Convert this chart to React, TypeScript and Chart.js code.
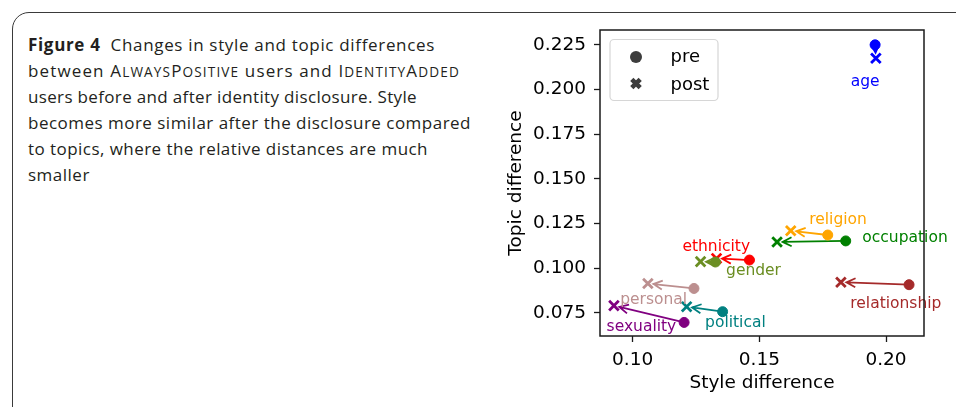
import React, { useEffect, useLayoutEffect, useRef } from 'react';
import { Chart, registerables } from 'chart.js';

Chart.register(...registerables);

const categories = ['age', 'religion', 'occupation', 'ethnicity', 'gender', 'personal', 'political', 'sexuality', 'relationship'];
const colors = ['#0000ff', '#ffa500', '#008000', '#ff0000', '#6b8e23', '#bc8f8f', '#008080', '#800080', '#a52a2a'];
const preStyle = [0.1957, 0.1770, 0.1841, 0.1461, 0.1327, 0.1242, 0.1355, 0.1203, 0.2091];
const preTopic = [0.2250, 0.1186, 0.1153, 0.1046, 0.1035, 0.0887, 0.0757, 0.0697, 0.0908];
const postStyle = [0.1960, 0.1624, 0.1570, 0.1331, 0.1268, 0.1060, 0.1213, 0.0926, 0.1822];
const postTopic = [0.2175, 0.1210, 0.1147, 0.1055, 0.1037, 0.0915, 0.0785, 0.0791, 0.0922];

const xTicks = [0.10, 0.15, 0.20];
const yTicks = [0.075, 0.100, 0.125, 0.150, 0.175, 0.200, 0.225];
const xRange = [0.0871, 0.2150];
const yRange = [0.0621, 0.2333];

const legendLabels = ['pre', 'post'];

// label placement (pixels relative to the pre point: centre x, baseline y)
const labelOffsets: [number, number][] = [
  [-10, 40.7], [10.3, -10.7], [59.3, 1.3], [-33.2, -9.3], [38, 13],
  [-40.3, 15.5], [12.8, 15.3], [-42.7, 8.5], [-13.2, 23.6],
];

// caption line widths (px) to match the typeset caption
const captionWidths = [407, 432, 389, 443, 400, 0];

const FONT = "'DejaVu Sans'";

const overlayPlugin = {
  id: 'overlay',
  beforeDatasetsDraw(chart: any) {
    const { ctx, scales } = chart;
    const xs = scales.x, ys = scales.y;
    ctx.save();
    for (let i = 0; i < categories.length; i++) {
      const x0 = xs.getPixelForValue(preStyle[i]);
      const y0 = ys.getPixelForValue(preTopic[i]);
      const x1 = xs.getPixelForValue(postStyle[i]);
      const y1 = ys.getPixelForValue(postTopic[i]);
      const dx = x0 - x1, dy = y0 - y1;
      const len = Math.hypot(dx, dy) || 1;
      const ux = dx / len, uy = dy / len;
      const tx = x1 + ux * 5.5, ty = y1 + uy * 5.5;
      ctx.strokeStyle = colors[i];
      ctx.lineWidth = 1.8;
      ctx.lineCap = 'butt';
      ctx.beginPath();
      ctx.moveTo(x0, y0);
      ctx.lineTo(tx, ty);
      const hl = 9, hw = 4.5;
      const bx = tx + ux * hl, by = ty + uy * hl;
      ctx.moveTo(bx - uy * hw, by + ux * hw);
      ctx.lineTo(tx, ty);
      ctx.lineTo(bx + uy * hw, by - ux * hw);
      ctx.stroke();
    }
    ctx.restore();
  },
  afterDatasetsDraw(chart: any) {
    const { ctx, scales } = chart;
    const xs = scales.x, ys = scales.y;
    ctx.save();
    ctx.font = `15.5px ${FONT}`;
    ctx.textAlign = 'center';
    ctx.textBaseline = 'alphabetic';
    for (let i = 0; i < categories.length; i++) {
      const x0 = xs.getPixelForValue(preStyle[i]);
      const y0 = ys.getPixelForValue(preTopic[i]);
      ctx.fillStyle = colors[i];
      ctx.fillText(categories[i], x0 + labelOffsets[i][0], y0 + labelOffsets[i][1]);
    }
    ctx.restore();
  },
  afterDraw(chart: any) {
    const { ctx, chartArea } = chart;
    const { left, top, right, bottom } = chartArea;
    ctx.save();
    ctx.strokeStyle = '#1a1a1a';
    ctx.lineWidth = 1.5;
    ctx.strokeRect(left, top, right - left, bottom - top);
    const lx = left + 10, ly = top + 9.5, lw = 108, lh = 61;
    ctx.beginPath();
    ctx.roundRect(lx, ly, lw, lh, 4);
    ctx.fillStyle = 'rgba(255,255,255,0.8)';
    ctx.fill();
    ctx.strokeStyle = '#d6d6d6';
    ctx.lineWidth = 1.2;
    ctx.stroke();
    const mx = lx + 26;
    const my0 = ly + 17.5, my1 = ly + 44;
    ctx.fillStyle = '#3d3d3d';
    ctx.beginPath();
    ctx.arc(mx, my0, 6, 0, Math.PI * 2);
    ctx.fill();
    ctx.strokeStyle = '#3d3d3d';
    ctx.lineWidth = 4.5;
    ctx.lineCap = 'butt';
    ctx.beginPath();
    ctx.moveTo(mx - 4.2, my1 - 4.2); ctx.lineTo(mx + 4.2, my1 + 4.2);
    ctx.moveTo(mx + 4.2, my1 - 4.2); ctx.lineTo(mx - 4.2, my1 + 4.2);
    ctx.stroke();
    ctx.fillStyle = '#000';
    ctx.font = `18px ${FONT}`;
    ctx.textAlign = 'left';
    ctx.textBaseline = 'alphabetic';
    ctx.fillText(legendLabels[0], lx + 60.5, ly + 22.5);
    ctx.fillText(legendLabels[1], lx + 60.5, ly + 50);
    ctx.restore();
  },
};

function ChartBox() {
  const ref = useRef<HTMLCanvasElement | null>(null);
  useEffect(() => {
    if (!ref.current) return;
    const chart = new Chart(ref.current, {
      type: 'scatter',
      data: {
        datasets: [
          {
            label: 'pre',
            data: preStyle.map((v, i) => ({ x: v, y: preTopic[i] })),
            pointStyle: 'circle',
            pointRadius: 5,
            pointBorderWidth: 1,
            backgroundColor: colors,
            borderColor: colors,
            order: 1,
          },
          {
            label: 'post',
            data: postStyle.map((v, i) => ({ x: v, y: postTopic[i] })),
            pointStyle: 'crossRot',
            pointRadius: 6.8,
            pointBorderWidth: 2.8,
            backgroundColor: colors,
            borderColor: colors,
            order: 2,
          },
        ],
      },
      options: {
        responsive: false,
        animation: false,
        devicePixelRatio: 1,
        layout: { padding: { top: 30, right: 32, bottom: 0, left: 0 } },
        plugins: { legend: { display: false }, tooltip: { enabled: false } },
        scales: {
          x: {
            type: 'linear',
            min: xRange[0],
            max: xRange[1],
            afterBuildTicks: (s: any) => { s.ticks = xTicks.map((v) => ({ value: v })); },
            afterFit: (s: any) => { s.height = 71; },
            grid: { drawOnChartArea: false, drawTicks: true, tickLength: 6, tickColor: '#1a1a1a', tickWidth: 1.3 },
            border: { display: false },
            ticks: {
              color: '#000',
              font: { family: FONT, size: 18.5 },
              padding: 7,
              maxRotation: 0,
              callback: (v: any) => Number(v).toFixed(2),
            },
            title: { display: true, text: 'Style difference', color: '#000', font: { family: FONT, size: 18.5 }, padding: { top: 0, bottom: 13 } },
          },
          y: {
            type: 'linear',
            min: yRange[0],
            max: yRange[1],
            afterBuildTicks: (s: any) => { s.ticks = yTicks.map((v) => ({ value: v })); },
            afterFit: (s: any) => { s.width = 100; },
            grid: { drawOnChartArea: false, drawTicks: true, tickLength: 6, tickColor: '#1a1a1a', tickWidth: 1.3 },
            border: { display: false },
            ticks: {
              color: '#000',
              font: { family: FONT, size: 18.5 },
              padding: 8,
              callback: (v: any) => Number(v).toFixed(3),
            },
            title: { display: true, text: 'Topic difference', color: '#000', font: { family: FONT, size: 18.5 }, padding: { top: 5, bottom: 0 } },
          },
        },
      },
      plugins: [overlayPlugin],
    } as any);
    return () => chart.destroy();
  }, []);
  return <canvas ref={ref} width={456} height={407} style={{ position: 'absolute', left: 500, top: 0, width: 456, height: 407 }} />;
}

function SmallCaps({ text }: { text: string }) {
  // capitals full size, lower-case letters as reduced capitals
  const parts: React.ReactNode[] = [];
  let i = 0;
  while (i < text.length) {
    const upper = text[i] === text[i].toUpperCase();
    let j = i;
    while (j < text.length && (text[j] === text[j].toUpperCase()) === upper) j++;
    const chunk = text.slice(i, j);
    parts.push(upper ? <span key={i}>{chunk}</span> : <span key={i} style={{ fontSize: '0.8em' }}>{chunk.toUpperCase()}</span>);
    i = j;
  }
  return <>{parts}</>;
}

export default function App() {
  const lineRefs = useRef<(HTMLSpanElement | null)[]>([]);
  useLayoutEffect(() => {
    lineRefs.current.forEach((el, i) => {
      if (!el) return;
      const target = captionWidths[i];
      if (!target) { el.style.letterSpacing = '0.5px'; return; }
      el.style.letterSpacing = '0px';
      const w = el.getBoundingClientRect().width;
      const n = (el.textContent || '').length;
      el.style.letterSpacing = `${(target - w) / n}px`;
    });
  }, []);
  const lineStyle: React.CSSProperties = { height: 26, whiteSpace: 'nowrap' };
  const setRef = (i: number) => (el: HTMLSpanElement | null) => { lineRefs.current[i] = el; };
  return (
    <div style={{ position: 'fixed', left: 0, top: 0, width: 956, height: 407, overflow: 'hidden', background: '#fff' }}>
      <div
        style={{
          position: 'absolute', left: 12, top: 12, width: 1100, height: 600,
          border: '1.3px solid #3a3a3a', borderTopLeftRadius: 17, boxSizing: 'border-box',
        }}
      />
      <div
        style={{
          position: 'absolute', left: 28, top: 32, fontFamily: "'Open Sans'", fontSize: 17,
          lineHeight: '26px', color: '#231f20',
        }}
      >
        <div style={lineStyle}><span ref={setRef(0)}><b style={{ marginRight: 10 }}>Figure 4</b>Changes in style and topic differences</span></div>
        <div style={lineStyle}><span ref={setRef(1)}>between <SmallCaps text="AlwaysPositive" /> users and <SmallCaps text="IdentityAdded" /></span></div>
        <div style={lineStyle}><span ref={setRef(2)}>users before and after identity disclosure. Style</span></div>
        <div style={lineStyle}><span ref={setRef(3)}>becomes more similar after the disclosure compared</span></div>
        <div style={lineStyle}><span ref={setRef(4)}>to topics, where the relative distances are much</span></div>
        <div style={lineStyle}><span ref={setRef(5)}>smaller</span></div>
      </div>
      <ChartBox />
    </div>
  );
}
